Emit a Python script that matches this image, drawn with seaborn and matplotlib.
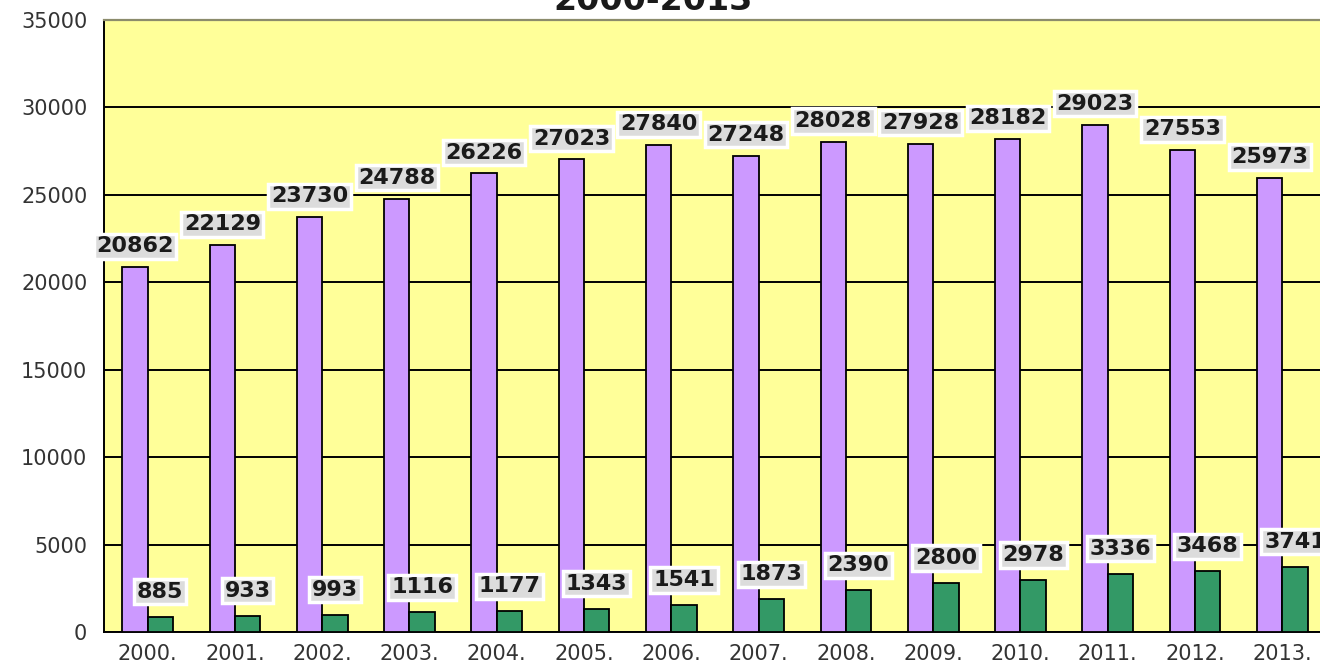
import matplotlib
matplotlib.use('Agg')
import matplotlib.pyplot as plt
import seaborn as sns
import pandas as pd
import numpy as np

# values
years = ['2000.', '2001.', '2002.', '2003.', '2004.', '2005.', '2006.',
         '2007.', '2008.', '2009.', '2010.', '2011.', '2012.', '2013.']
total = [20862, 22129, 23730, 24788, 26226, 27023, 27840,
         27248, 28028, 27928, 28182, 29023, 27553, 25973]
part = [885, 933, 993, 1116, 1177, 1343, 1541,
        1873, 2390, 2800, 2978, 3336, 3468, 3741]
series_names = ['total', 'part']
title = '2000-2013'

purple = '#CC99FF'
green = '#339966'
yellow = '#FFFF99'

df = pd.DataFrame({
    'year': years * 2,
    'value': total + part,
    'series': [series_names[0]] * len(years) + [series_names[1]] * len(years),
})

sns.set_style('white')
plt.rcParams['font.family'] = ['DejaVu Sans']

fig = plt.figure(figsize=(13.2, 6.7), dpi=100)
ax = fig.add_axes([104 / 1320, 38 / 670, 1222 / 1320, 612 / 670])
ax.set_facecolor(yellow)

sns.barplot(data=df, x='year', y='value', hue='series', order=years,
            hue_order=series_names, palette=[purple, green], saturation=1,
            width=0.58, edgecolor='black', linewidth=1.3, legend=False,
            zorder=3, ax=ax)

ax.set_xlim(-0.5, len(years) - 0.5)
ax.set_ylim(0, 35000)
ax.set_yticks(np.arange(0, 35001, 5000))
ax.yaxis.grid(True, color='black', linewidth=1.4, zorder=1)
ax.set_axisbelow(True)
ax.set_xlabel('')
ax.set_ylabel('')

# category ticks between groups, labels centred
ax.set_xticks(np.arange(len(years)))
ax.set_xticklabels(years)
ax.set_xticks(np.arange(len(years) + 1) - 0.5, minor=True)
ax.tick_params(axis='x', which='major', length=0, labelsize=15,
               labelcolor='#333333', pad=9)
ax.tick_params(axis='x', which='minor', length=7, width=1.4,
               direction='out', color='black')
ax.tick_params(axis='y', length=7, width=1.4, direction='out',
               color='black', labelsize=15, labelcolor='#333333', pad=5)

for side in ['left', 'bottom']:
    ax.spines[side].set_color('black')
    ax.spines[side].set_linewidth(1.4)
ax.spines['top'].set_color('#8c8c6c')
ax.spines['top'].set_linewidth(1.6)
ax.spines['right'].set_visible(False)

box = dict(boxstyle='square,pad=0.12', facecolor='#dcdcdc',
           edgecolor='white', linewidth=2.5)
offsets = [15, 18]
for cont, off in zip(ax.containers, offsets):
    for bar in cont:
        h = bar.get_height()
        ax.annotate(f'{int(round(h))}',
                    (bar.get_x() + bar.get_width() / 2, h),
                    xytext=(0, off), textcoords='offset points',
                    ha='center', va='center', fontsize=16,
                    fontweight='bold', color='#1a1a1a', bbox=box,
                    zorder=5, annotation_clip=False)

fig.text(0.495, 1 - 10 / 670, title, ha='center', va='baseline',
         fontsize=24, fontweight='bold', color='#1a1a1a')

fig.savefig('out.png', dpi=100)
